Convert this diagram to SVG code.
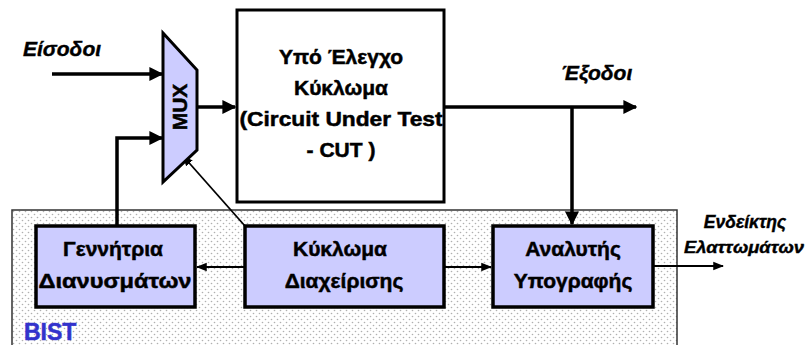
<svg xmlns="http://www.w3.org/2000/svg" width="809" height="345" viewBox="0 0 809 345">
<defs>
<pattern id="dots" width="6" height="6" patternUnits="userSpaceOnUse">
<rect width="6" height="6" fill="#ffffff"/>
<circle cx="1.5" cy="1.5" r="0.8" fill="#b0b0b0"/>
<circle cx="4.5" cy="4.5" r="0.8" fill="#b0b0b0"/>
</pattern>
<marker id="ah" viewBox="0 0 10 10" refX="9" refY="5" markerWidth="4" markerHeight="4" orient="auto" markerUnits="strokeWidth">
<path d="M0,0 L10,5 L0,10 z" fill="#000"/>
</marker>
<marker id="ahs" viewBox="0 0 10 10" refX="9" refY="5" markerWidth="6" markerHeight="6" orient="auto" markerUnits="strokeWidth">
<path d="M0,1 L10,5 L0,9 z" fill="#000"/>
</marker>
</defs>
<style>
.box{fill:#ccccff;stroke:#000;stroke-width:3.5}
.t{font-family:"Liberation Sans",Arial,sans-serif;font-weight:bold;font-size:21px;fill:#000;stroke:#000;stroke-width:0.5;text-anchor:middle}
.it{font-family:"Liberation Sans",Arial,sans-serif;font-weight:bold;font-style:italic;fill:#000;stroke:#000;stroke-width:0.4}
.thick{stroke:#000;stroke-width:3.5;fill:none}
.thin{stroke:#000;stroke-width:1.8;fill:none}
</style>
<g id="bist">
<rect x="12" y="210" width="665" height="150" fill="url(#dots)" stroke="#333" stroke-width="1.5"/>
<text x="24" y="340" font-family="'Liberation Sans',Arial,sans-serif" font-weight="bold" font-size="23" fill="#3333cc" stroke="#3333cc" stroke-width="0.5">BIST</text>
</g>
<g id="connectors">
<line class="thick" x1="52" y1="74" x2="162" y2="74" marker-end="url(#ah)"/>
<polyline class="thick" points="117,226 117,138 162,138" marker-end="url(#ah)"/>
<line class="thick" x1="197" y1="107" x2="235" y2="107" marker-end="url(#ah)"/>
<line class="thick" x1="444" y1="107" x2="636" y2="107" marker-end="url(#ah)"/>
<line class="thick" x1="572" y1="107" x2="572" y2="224" marker-end="url(#ah)"/>
<line class="thin" x1="245" y1="226" x2="183" y2="156" marker-end="url(#ahs)"/>
<line class="thin" x1="245" y1="267" x2="197" y2="267" marker-end="url(#ahs)"/>
<line class="thin" x1="444" y1="267" x2="491" y2="267" marker-end="url(#ahs)"/>
<line class="thin" x1="653" y1="266" x2="723" y2="266" marker-end="url(#ahs)"/>
</g>
<g id="inputs-label">
<text class="it" x="23" y="56" font-size="21">Είσοδοι</text>
</g>
<g id="outputs-label">
<text class="it" x="561" y="80" font-size="21">Έξοδοι</text>
</g>
<g id="mux">
<polygon points="163,33 197,70 197,150 163,182" fill="#ccccff" stroke="#000" stroke-width="3"/>
<text class="t" font-size="19" transform="translate(187,107) rotate(-90)" text-anchor="middle">MUX</text>
</g>
<g id="cut">
<rect x="237" y="10" width="207" height="192" fill="#fff" stroke="#000" stroke-width="3"/>
<text class="t" x="341" y="64">Υπό Έλεγχο</text>
<text class="t" x="341" y="95">Κύκλωμα</text>
<text class="t" x="341" y="126" textLength="203" lengthAdjust="spacingAndGlyphs">(Circuit Under Test</text>
<text class="t" x="341" y="157">- CUT )</text>
</g>
<g id="generator">
<rect class="box" x="36" y="226" width="159" height="81"/>
<text class="t" x="113" y="256">Γεννήτρια</text>
<text class="t" x="115" y="288" textLength="153" lengthAdjust="spacingAndGlyphs">Διανυσμάτων</text>
</g>
<g id="control">
<rect class="box" x="245" y="226" width="199" height="81"/>
<text class="t" x="340" y="256">Κύκλωμα</text>
<text class="t" x="344" y="288">Διαχείρισης</text>
</g>
<g id="analyzer">
<rect class="box" x="493" y="226" width="160" height="81"/>
<text class="t" x="573" y="256">Αναλυτής</text>
<text class="t" x="573" y="288">Υπογραφής</text>
</g>
<g id="fault-label">
<text class="it" x="745" y="228" font-size="17.5" text-anchor="middle">Ενδείκτης</text>
<text class="it" x="744" y="253" font-size="17" text-anchor="middle" textLength="120" lengthAdjust="spacingAndGlyphs">Ελαττωμάτων</text>
</g>
</svg>
